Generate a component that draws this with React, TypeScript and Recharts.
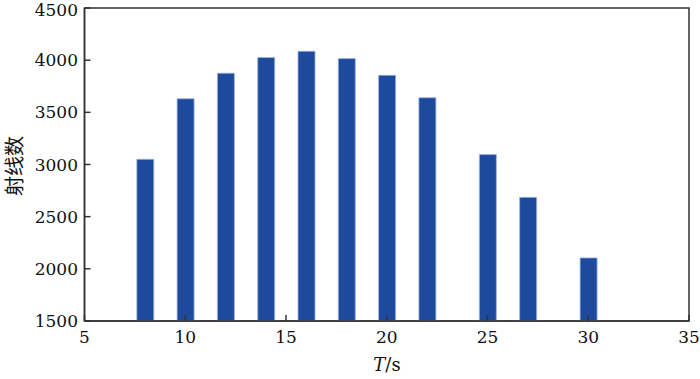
import React from 'react'
import { Bar, BarChart, Label, ReferenceArea, XAxis, YAxis } from 'recharts'

// T/s values and ray counts
const periods = [8, 10, 12, 14, 16, 18, 20, 22, 25, 27, 30]
const rayCounts = [3050, 3630, 3875, 4025, 4085, 4015, 3855, 3640, 3095, 2685, 2105]
const xTicks = [5, 10, 15, 20, 25, 30, 35]
const yTicks = [1500, 2000, 2500, 3000, 3500, 4000, 4500]

const FONT = 'DejaVu Serif'
const AXIS = '#333'

export default function App() {
  const data = periods.map((t, i) => ({ t, n: rayCounts[i] }))
  const tickStyle = { fill: '#111', fontSize: 17, fontFamily: FONT }

  return (
    <div style={{ position: 'absolute', left: 0, top: 0, width: 700, height: 379, background: '#fff' }}>
      <BarChart
        width={700}
        height={379}
        data={data}
        margin={{ top: 8, right: 11, bottom: 0, left: 0 }}
      >
        <XAxis
          dataKey="t"
          type="number"
          domain={[5, 35]}
          ticks={xTicks}
          allowDataOverflow
          height={58}
          stroke={AXIS}
          strokeWidth={1.5}
          tickSize={-6}
          tickMargin={16}
          tick={tickStyle}
        >
          <Label
            content={() => (
              <text x={387} y={371} textAnchor="middle" fontFamily={FONT} fontSize={18} fill="#111">
                <tspan fontStyle="italic">T</tspan>
                <tspan>/s</tspan>
              </text>
            )}
          />
        </XAxis>
        <YAxis
          type="number"
          domain={[1500, 4500]}
          ticks={yTicks}
          allowDataOverflow
          width={84.5}
          stroke={AXIS}
          strokeWidth={1.5}
          tickSize={-6}
          tickMargin={12.5}
          tick={tickStyle}
        >
          <Label
            content={() => (
              <text
                x={22}
                y={166}
                transform="rotate(-90 22 166)"
                textAnchor="middle"
                fontFamily="Noto Sans CJK SC"
                fontSize={20}
                fill="#111"
              >
                射线数
              </text>
            )}
          />
        </YAxis>
        <ReferenceArea
          x1={5}
          x2={35}
          y1={1500}
          y2={4500}
          fill="none"
          stroke={AXIS}
          strokeWidth={1.5}
          ifOverflow="visible"
        />
        <Bar
          dataKey="n"
          barSize={17}
          fill="#1e4a9e"
          stroke="#9fb4df"
          strokeWidth={0.8}
          isAnimationActive={false}
        />
      </BarChart>
    </div>
  )
}
